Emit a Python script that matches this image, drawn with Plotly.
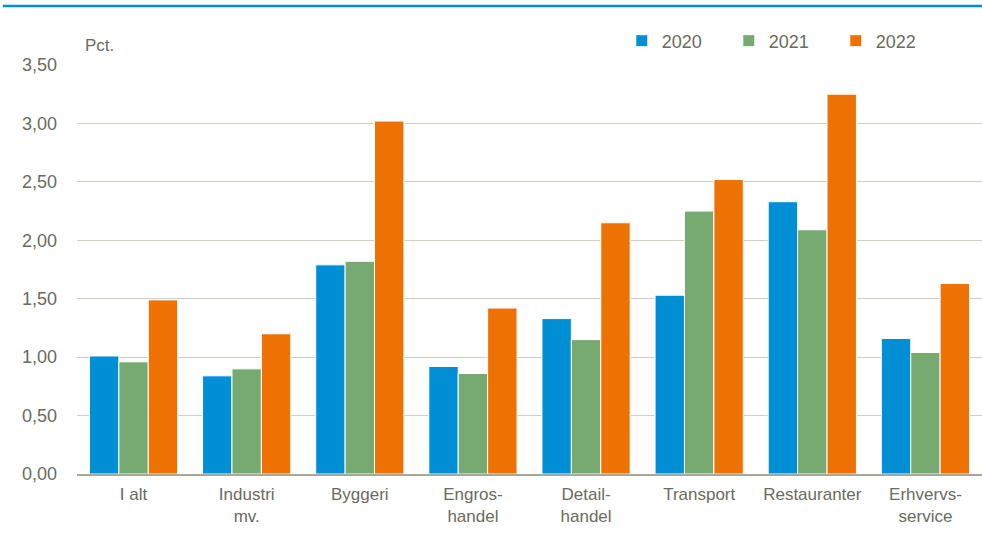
import plotly.graph_objects as go

categories = ["I alt", "Industri<br>mv.", "Byggeri", "Engros-<br>handel", "Detail-<br>handel",
              "Transport", "Restauranter", "Erhvervs-<br>service"]
v2020 = [1.01, 0.84, 1.79, 0.92, 1.33, 1.53, 2.33, 1.16]
v2021 = [0.96, 0.90, 1.82, 0.86, 1.15, 2.25, 2.09, 1.04]
v2022 = [1.49, 1.20, 3.02, 1.42, 2.15, 2.52, 3.25, 1.63]
series = [("2020", v2020, "#008FD5"), ("2021", v2021, "#77AA71"), ("2022", v2022, "#EE7203")]

FONT = "Liberation Sans Narrow, Arial Narrow, Liberation Sans, Arial, sans-serif"
TXT = "#6B6B5E"

fig = go.Figure()
for name, vals, col in series:
    fig.add_trace(go.Bar(x=categories, y=vals, name=name, marker_color=col,
                         marker_line_color="white", marker_line_width=1))

fig.update_layout(
    width=982, height=539,
    margin=dict(l=77, r=0, t=65, b=65, autoexpand=False),
    paper_bgcolor="white", plot_bgcolor="white",
    barmode="group", bargap=0.22, bargroupgap=0.0,
    separators=",.",
    font=dict(family=FONT, size=17, color=TXT),
    legend=dict(orientation="h", x=0.602, xanchor="left", y=1.0587, yanchor="middle",
                font=dict(size=18, color=TXT), itemwidth=30, traceorder="normal",
                entrywidth=62, bgcolor="rgba(0,0,0,0)"),
    xaxis=dict(showgrid=False, showline=True, linecolor="#A8A89A", linewidth=1.5,
               ticks="", ticklabelstandoff=4, tickfont=dict(size=17, color=TXT)),
    yaxis=dict(range=[0, 3.5], dtick=0.5, tickformat=".2f", showgrid=True,
               gridcolor="#CFCFC6", gridwidth=1, zeroline=False, showline=False,
               ticks="", ticklen=0, ticklabelstandoff=19, tickfont=dict(size=18, color=TXT)),
    showlegend=True,
)
fig.add_annotation(text="Pct.", xref="paper", yref="paper", x=0.0, y=1.02, xanchor="left",
                   yanchor="bottom", showarrow=False, xshift=6, font=dict(size=17, color=TXT))
fig.add_shape(type="line", xref="paper", yref="paper", x0=-0.082, x1=1.0, y0=1.1443, y1=1.1443,
              line=dict(color="#0090D0", width=2.5))
fig.write_html("out.html", config={"displayModeBar": False},
               post_script="document.body.style.margin='0';document.body.style.overflow='hidden';")
